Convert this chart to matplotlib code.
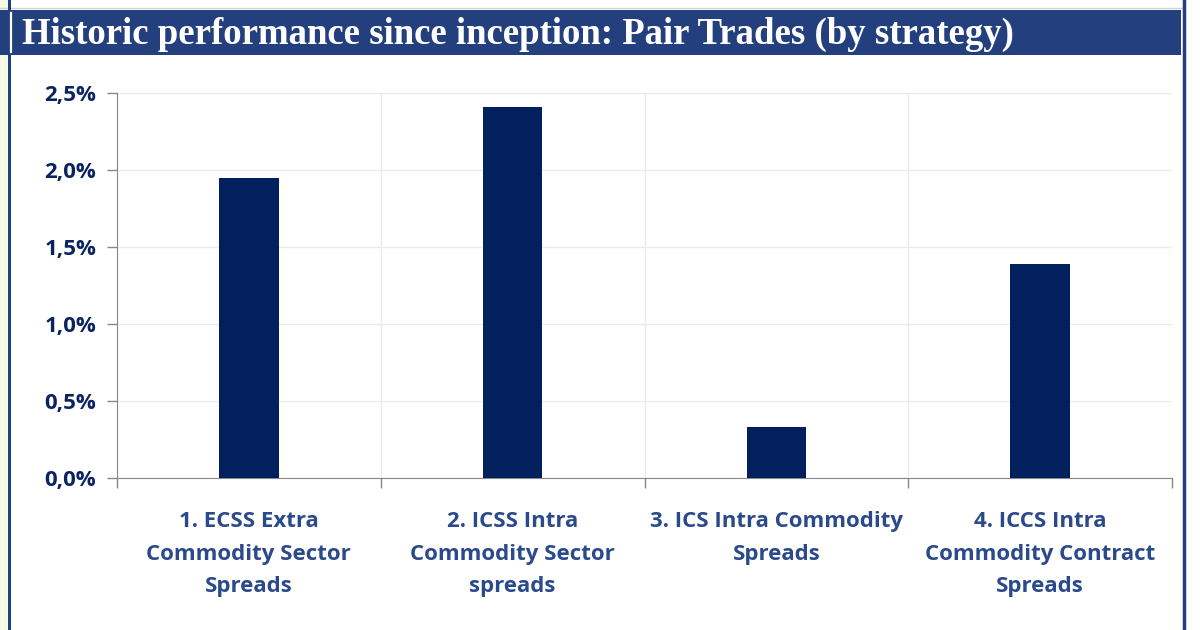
import numpy as np
import matplotlib.pyplot as plt
from matplotlib.patches import Rectangle
from matplotlib.lines import Line2D
from matplotlib.ticker import FuncFormatter

# data
categories = ["1. ECSS Extra\nCommodity Sector\nSpreads",
              "2. ICSS Intra\nCommodity Sector\nspreads",
              "3. ICS Intra Commodity\nSpreads",
              "4. ICCS Intra\nCommodity Contract\nSpreads"]
performance = [1.95, 2.41, 0.33, 1.39]  # percent
y_ticks = [0.0, 0.5, 1.0, 1.5, 2.0, 2.5]

navy = "#0B2461"
bar_color = "#021F5E"
label_blue = "#2B4A8C"
band = "#243F7D"

W, H = 1203, 630
fig = plt.figure(figsize=(W / 100, H / 100), dpi=100)
fig.patch.set_facecolor("white")

def fx(px):
    return px / W

def fy(py):
    return 1 - py / H

# left light strip and frame lines
fig.patches.append(Rectangle((0, 0), fx(7), 1, transform=fig.transFigure,
                             facecolor="#F4FAE4", edgecolor="none", zorder=0))
fig.lines.append(Line2D([fx(0), fx(1183)], [fy(8), fy(8)], transform=fig.transFigure,
                        color="#D0D0D0", lw=1))
# title band
fig.patches.append(Rectangle((fx(0), fy(55)), fx(1181), (55 - 10) / H, transform=fig.transFigure,
                             facecolor=band, edgecolor="none", zorder=1))
fig.lines.append(Line2D([fx(8.5), fx(8.5)], [0, 1], transform=fig.transFigure,
                        color=band, lw=2.2, zorder=2))
fig.lines.append(Line2D([fx(10.5), fx(10.5)], [fy(52), fy(13)], transform=fig.transFigure,
                        color="white", lw=1.6, zorder=3))
fig.lines.append(Line2D([fx(1183.5), fx(1183.5)], [0, 1], transform=fig.transFigure,
                        color=band, lw=2.5, zorder=2))
fig.text(fx(22), fy(34), "Historic performance since inception: Pair Trades (by strategy)",
         color="white", fontsize=26.5, fontweight="bold", family="Liberation Serif",
         va="center", ha="left", zorder=4)

ax = fig.add_axes([fx(117), fy(478), fx(1172 - 117), (478 - 93) / H])
x = np.arange(len(categories))
ax.bar(x, performance, width=0.225, color=bar_color, zorder=3)

ax.set_xlim(-0.5, len(categories) - 0.5)
ax.set_ylim(0, 2.5)
ax.set_yticks(y_ticks)
ax.yaxis.set_major_formatter(FuncFormatter(lambda v, p: f"{v:.1f}%".replace(".", ",")))
for lab in ax.get_yticklabels():
    lab.set_fontweight("bold")
    lab.set_family("Open Sans")
ax.tick_params(axis="y", labelsize=16, labelcolor=navy, color="#888888", length=7, width=1, pad=8)

# category labels at centers, ticks at boundaries
ax.set_xticks(x)
ax.set_xticklabels(categories, fontsize=16, fontweight="bold", color=label_blue,
                   family="Open Sans", linespacing=1.72)
ax.tick_params(axis="x", length=0, pad=24)
ax.set_xticks(np.arange(len(categories) + 1) - 0.5, minor=True)
ax.tick_params(axis="x", which="minor", length=7, color="#888888", width=1)

ax.grid(axis="y", color="#EBEBEB", lw=1, zorder=0)
ax.grid(axis="x", which="minor", color="#EBEBEB", lw=1, zorder=0)
for side in ["top", "right"]:
    ax.spines[side].set_visible(False)
ax.spines["left"].set_color("#888888")
ax.spines["bottom"].set_color("#888888")

plt.savefig("out.png", dpi=100)
